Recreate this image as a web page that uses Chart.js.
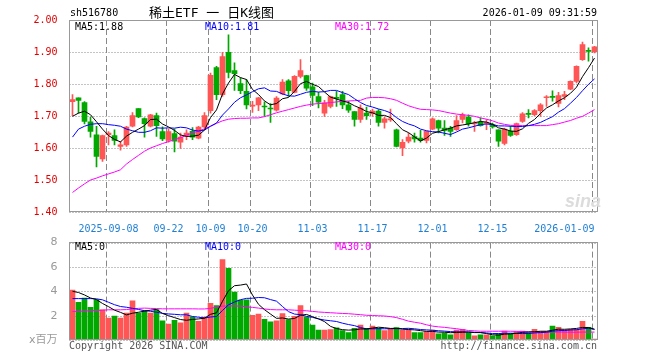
<!DOCTYPE html>
<html>
<head>
<meta charset="utf-8">
<script src="https://cdn.jsdelivr.net/npm/chart.js@4.4.1/dist/chart.umd.min.js"></script>
<style>
  body { margin: 0; background: #fff; }
  #wrap { position: relative; width: 660px; height: 360px; overflow: hidden;
          font-family: 'DejaVu Sans Mono', monospace; font-size: 10px; }
  canvas { position: absolute; left: 0; }
  .txt { position: absolute; white-space: nowrap; line-height: 12px; }
</style>
</head>
<body>
<div id="wrap">
  <canvas id="kline" width="660" height="235" style="top:0"></canvas>
  <canvas id="vol" width="660" height="128" style="top:232px"></canvas>

  <div class="txt" style="left:70px;top:7px">sh516780</div>
  <div class="txt" style="left:149px;top:5px;font:13px/16px 'DejaVu Sans Mono', 'Noto Sans CJK SC', monospace">稀土ETF 一 日K线图</div>
  <div class="txt" style="right:63px;top:7px">2026-01-09 09:31:59</div>

  <div class="txt" style="left:75px;top:21px;color:#000">MA5:1.88</div>
  <div class="txt" style="left:205px;top:21px;color:#0000ff">MA10:1.81</div>
  <div class="txt" style="left:335px;top:21px;color:#ff00ff">MA30:1.72</div>

  <div class="txt" style="left:565px;top:192px;font:italic bold 18px/18px 'Liberation Sans', sans-serif;color:#dcdcdc">sina</div>

  <div class="txt" style="left:75px;top:241px;color:#000">MA5:0</div>
  <div class="txt" style="left:205px;top:241px;color:#0000ff">MA10:0</div>
  <div class="txt" style="left:335px;top:241px;color:#ff00ff">MA30:0</div>

  <div class="txt" style="left:69px;top:340px;color:#555">Copyright 2026 SINA.COM</div>
  <div class="txt" style="right:63px;top:340px;color:#555">http://finance.sina.com.cn</div>
</div>

<script>
// trading days shown on the chart
const dates = [
  '2025-08-29',
  '2025-09-01','2025-09-02','2025-09-03','2025-09-04','2025-09-05','2025-09-08','2025-09-09','2025-09-10','2025-09-11','2025-09-12',
  '2025-09-15','2025-09-16','2025-09-17','2025-09-18','2025-09-19','2025-09-22','2025-09-23','2025-09-24','2025-09-25','2025-09-26',
  '2025-09-29','2025-09-30',
  '2025-10-09','2025-10-10','2025-10-13','2025-10-14','2025-10-15','2025-10-16','2025-10-17','2025-10-20','2025-10-21','2025-10-22',
  '2025-10-23','2025-10-24','2025-10-27','2025-10-28','2025-10-29','2025-10-30','2025-10-31',
  '2025-11-03','2025-11-04','2025-11-05','2025-11-06','2025-11-07','2025-11-10','2025-11-11','2025-11-12','2025-11-13','2025-11-14',
  '2025-11-17','2025-11-18','2025-11-19','2025-11-20','2025-11-21','2025-11-24','2025-11-25','2025-11-26','2025-11-27','2025-11-28',
  '2025-12-01','2025-12-02','2025-12-03','2025-12-04','2025-12-05','2025-12-08','2025-12-09','2025-12-10','2025-12-11','2025-12-12',
  '2025-12-15','2025-12-16','2025-12-17','2025-12-18','2025-12-19','2025-12-22','2025-12-23','2025-12-24','2025-12-25','2025-12-26',
  '2025-12-29','2025-12-30','2025-12-31',
  '2026-01-05','2026-01-06','2026-01-07','2026-01-08','2026-01-09'
];

const tickDates = ['2025-09-08','2025-09-22','2025-10-09','2025-10-20','2025-11-03','2025-11-17','2025-12-01','2025-12-15','2026-01-09'];
const tickText  = ['2025-09-08','09-22','10-09','10-20','11-03','11-17','12-01','12-15','2026-01-09'];

const open = [
  1.745,1.757,1.742,1.682,1.641,1.566,1.642,1.639,1.605,1.610,
  1.668,1.723,1.692,1.668,1.701,1.651,1.624,1.645,1.618,1.639,
  1.652,1.631,1.666,1.717,1.851,1.767,1.899,1.842,1.801,1.777,
  1.731,1.735,1.730,1.724,1.718,1.769,1.810,1.774,1.824,1.826,
  1.791,1.761,1.709,1.730,1.757,1.767,1.735,1.714,1.689,1.709,
  1.707,1.715,1.680,1.688,1.657,1.600,1.621,1.636,1.631,1.624,
  1.659,1.686,1.662,1.662,1.657,1.689,1.697,1.675,1.680,1.677,
  1.673,1.657,1.614,1.652,1.642,1.683,1.707,1.704,1.717,1.757,
  1.760,1.739,1.761,1.784,1.808,1.876,1.904,1.900
];
const high = [
  1.767,1.757,1.745,1.697,1.668,1.640,1.651,1.657,1.621,1.668,
  1.711,1.723,1.694,1.705,1.709,1.666,1.659,1.659,1.647,1.657,
  1.664,1.668,1.711,1.834,1.855,1.899,1.954,1.866,1.819,1.814,
  1.746,1.758,1.744,1.739,1.761,1.814,1.814,1.826,1.876,1.827,
  1.803,1.774,1.749,1.762,1.777,1.777,1.746,1.714,1.735,1.728,
  1.722,1.720,1.697,1.722,1.659,1.626,1.647,1.647,1.655,1.653,
  1.694,1.687,1.686,1.668,1.701,1.709,1.704,1.683,1.694,1.689,
  1.678,1.657,1.662,1.668,1.678,1.711,1.720,1.720,1.739,1.764,
  1.779,1.774,1.777,1.810,1.857,1.931,1.913,1.918
];
const low = [
  1.701,1.709,1.675,1.634,1.541,1.558,1.610,1.610,1.593,1.605,
  1.666,1.695,1.634,1.666,1.636,1.623,1.618,1.588,1.599,1.626,
  1.626,1.628,1.662,1.709,1.751,1.761,1.819,1.780,1.770,1.722,
  1.711,1.717,1.699,1.680,1.715,1.767,1.761,1.772,1.819,1.780,
  1.732,1.725,1.699,1.725,1.730,1.723,1.711,1.668,1.680,1.689,
  1.699,1.668,1.662,1.683,1.603,1.576,1.616,1.618,1.618,1.616,
  1.657,1.647,1.639,1.636,1.655,1.678,1.668,1.652,1.668,1.657,
  1.662,1.605,1.610,1.636,1.639,1.680,1.694,1.701,1.699,1.730,
  1.746,1.728,1.751,1.782,1.803,1.874,1.871,1.897
];
const close = [
  1.751,1.749,1.683,1.652,1.574,1.639,1.647,1.624,1.610,1.665,
  1.701,1.697,1.676,1.704,1.670,1.628,1.651,1.621,1.634,1.647,
  1.634,1.665,1.701,1.827,1.767,1.886,1.836,1.832,1.779,1.735,
  1.734,1.757,1.728,1.722,1.756,1.806,1.779,1.824,1.842,1.787,
  1.764,1.743,1.741,1.761,1.755,1.735,1.718,1.689,1.725,1.701,
  1.715,1.680,1.691,1.690,1.605,1.618,1.634,1.628,1.624,1.652,
  1.691,1.662,1.655,1.652,1.686,1.704,1.676,1.678,1.670,1.679,
  1.666,1.621,1.659,1.639,1.676,1.707,1.705,1.717,1.735,1.760,
  1.758,1.764,1.767,1.808,1.855,1.923,1.902,1.916
];

const ma5 = [
  1.699,1.709,1.715,1.704,1.682,1.659,1.639,1.627,1.619,1.637,
  1.649,1.659,1.670,1.689,1.690,1.675,1.666,1.655,1.641,1.636,
  1.637,1.640,1.656,1.695,1.719,1.769,1.803,1.830,1.820,1.814,
  1.783,1.767,1.747,1.735,1.739,1.754,1.758,1.777,1.801,1.808,
  1.799,1.792,1.775,1.759,1.753,1.747,1.742,1.732,1.724,1.714,
  1.710,1.702,1.702,1.695,1.676,1.657,1.648,1.635,1.622,1.631,
  1.646,1.651,1.657,1.662,1.669,1.672,1.675,1.679,1.683,1.681,
  1.674,1.663,1.659,1.653,1.652,1.660,1.677,1.689,1.708,1.725,
  1.735,1.747,1.757,1.771,1.790,1.823,1.851,1.881
];
const ma10 = [
  1.634,1.659,1.668,1.674,1.676,1.676,1.673,1.671,1.668,1.659,
  1.654,1.649,1.649,1.654,1.663,1.662,1.663,1.662,1.665,1.663,
  1.656,1.653,1.656,1.668,1.678,1.703,1.722,1.743,1.757,1.766,
  1.776,1.785,1.788,1.778,1.777,1.769,1.763,1.762,1.768,1.774,
  1.777,1.775,1.776,1.780,1.780,1.773,1.767,1.754,1.742,1.733,
  1.728,1.722,1.717,1.710,1.695,1.683,1.675,1.669,1.659,1.654,
  1.651,1.650,1.646,1.642,1.650,1.659,1.663,1.668,1.673,1.675,
  1.673,1.669,1.669,1.668,1.667,1.667,1.670,1.674,1.680,1.689,
  1.698,1.712,1.723,1.740,1.758,1.779,1.799,1.816
];
const ma30 = [
  1.461,1.475,1.488,1.500,1.506,1.513,1.519,1.525,1.532,1.550,
  1.564,1.577,1.590,1.600,1.607,1.614,1.620,1.626,1.632,1.640,
  1.647,1.653,1.660,1.668,1.677,1.685,1.690,1.692,1.693,1.693,
  1.694,1.694,1.698,1.704,1.710,1.715,1.720,1.725,1.730,1.734,
  1.737,1.739,1.740,1.742,1.744,1.746,1.747,1.748,1.749,1.756,
  1.758,1.758,1.757,1.754,1.749,1.740,1.732,1.726,1.721,1.720,
  1.719,1.717,1.713,1.709,1.706,1.704,1.702,1.699,1.694,1.690,
  1.685,1.678,1.674,1.671,1.670,1.670,1.670,1.670,1.670,1.670,
  1.673,1.676,1.681,1.686,1.693,1.699,1.709,1.720
];

// volume, millions of shares
const volume = [
  4.10,3.09,3.44,2.69,3.30,2.48,1.81,1.97,1.81,2.21,
  3.22,2.21,2.42,2.21,2.50,1.57,1.30,1.62,1.41,2.21,
  1.89,1.54,1.89,3.01,2.83,6.61,5.89,3.94,3.28,3.30,
  2.02,2.13,1.70,1.49,1.57,2.16,1.68,1.94,2.82,1.89,
  1.22,0.82,0.82,0.85,1.00,0.77,0.61,0.96,1.22,0.96,
  1.14,0.96,0.77,0.90,1.01,0.82,0.82,0.61,0.61,0.69,
  0.82,0.50,0.56,0.42,0.82,0.88,0.61,0.34,0.42,0.42,
  0.34,0.50,0.74,0.50,0.69,0.74,0.61,0.88,0.69,0.69,
  1.14,1.04,0.82,0.88,0.88,1.54,1.04,0.08
];
const vma5 = [
  4.00,3.90,3.70,3.45,3.32,3.00,2.74,2.45,2.27,2.06,
  2.20,2.28,2.37,2.45,2.51,2.18,2.00,1.84,1.68,1.62,
  1.69,1.73,1.79,2.11,2.23,3.18,4.05,4.46,4.51,4.60,
  3.69,2.93,2.49,2.13,1.78,1.81,1.72,1.77,2.03,2.10,
  1.91,1.74,1.51,1.12,0.94,0.85,0.81,0.84,0.91,0.90,
  0.98,1.05,1.01,0.95,0.96,0.89,0.86,0.83,0.77,0.71,
  0.71,0.65,0.64,0.60,0.62,0.64,0.66,0.61,0.61,0.53,
  0.43,0.40,0.48,0.50,0.55,0.63,0.66,0.68,0.72,0.72,
  0.80,0.89,0.88,0.91,0.95,1.03,1.03,0.88
];
const vma10 = [
  3.40,3.40,3.40,3.40,3.38,3.30,3.10,2.90,2.75,2.69,
  2.60,2.51,2.41,2.36,2.28,2.19,2.14,2.11,2.07,2.07,
  1.93,1.87,1.81,1.89,1.93,2.43,2.89,3.12,3.31,3.42,
  3.43,3.49,3.47,3.32,3.19,2.75,2.33,2.13,2.08,1.94,
  1.86,1.73,1.64,1.58,1.52,1.38,1.27,1.18,1.02,0.92,
  0.92,0.93,0.92,0.93,0.93,0.94,0.96,0.92,0.86,0.83,
  0.80,0.76,0.73,0.69,0.67,0.67,0.65,0.63,0.61,0.58,
  0.53,0.53,0.55,0.56,0.54,0.53,0.53,0.58,0.61,0.64,
  0.72,0.77,0.78,0.82,0.84,0.92,0.96,0.88
];
const vma30 = [
  2.34,2.36,2.38,2.40,2.42,2.45,2.48,2.48,2.48,2.50,
  2.55,2.60,2.62,2.60,2.58,2.56,2.56,2.56,2.56,2.56,
  2.56,2.55,2.55,2.60,2.70,2.78,2.80,2.80,2.78,2.72,
  2.68,2.62,2.55,2.50,2.48,2.48,2.48,2.45,2.42,2.40,
  2.35,2.30,2.27,2.24,2.21,2.18,2.16,2.12,2.08,2.03,
  2.01,1.99,1.97,1.92,1.84,1.70,1.55,1.46,1.38,1.25,
  1.14,1.08,1.04,0.98,0.93,0.85,0.78,0.75,0.72,0.72,
  0.72,0.72,0.72,0.72,0.71,0.69,0.67,0.66,0.65,0.65,
  0.65,0.65,0.65,0.64,0.64,0.65,0.65,0.65
];

const UP = '#ff5555';
const DOWN = '#00a800';
const candleColors = dates.map((d, i) => close[i] >= open[i] ? UP : DOWN);
const tickIdx = tickDates.map(d => dates.indexOf(d));

Chart.defaults.font.family = "'DejaVu Sans Mono', monospace";
Chart.defaults.font.size = 10;

// grid and box drawn through the chart's own scales:
// dashed line at each labelled date, dotted line at each value tick
const gridBox = {
  id: 'gridBox',
  beforeDatasetsDraw(chart) {
    const a = chart.chartArea;
    const c = chart.ctx;
    const xs = chart.scales.x;
    const ys = chart.scales.y;
    const step = xs.getPixelForValue(1) - xs.getPixelForValue(0);
    c.save();
    c.lineWidth = 1;
    c.strokeStyle = '#888';
    c.setLineDash([6, 3]);
    tickIdx.forEach(i => {
      const x = Math.round(xs.getPixelForValue(i) - step / 2) + 0.5;
      c.beginPath();
      c.moveTo(x, a.top);
      c.lineTo(x, a.bottom);
      c.stroke();
    });
    c.setLineDash([1, 2]);
    ys.ticks.forEach(t => {
      const y = Math.round(ys.getPixelForValue(t.value)) + 0.5;
      c.beginPath();
      c.moveTo(a.left, y);
      c.lineTo(a.right, y);
      c.stroke();
    });
    c.restore();
  },
  afterDatasetsDraw(chart) {
    const a = chart.chartArea;
    const c = chart.ctx;
    const left = Math.floor(a.left);
    const top = Math.floor(a.top);
    c.save();
    c.strokeStyle = '#999';
    c.lineWidth = 1;
    c.strokeRect(left + 0.5, top + 0.5, Math.floor(a.right) - left, Math.floor(a.bottom) - top - 1);
    c.restore();
  }
};

function maLine(data, color) {
  return { type: 'line', data: data, borderColor: color, borderWidth: 1,
    pointRadius: 0, tension: 0, fill: false, order: 0 };
}

function xScale(showLabels) {
  return {
    offset: true,
    grid: { display: false },
    border: { display: false },
    ticks: {
      display: showLabels,
      autoSkip: false,
      maxRotation: 0,
      align: 'inner',
      padding: 3,
      color: '#1f7fd4',
      callback: (v, i) => {
        const k = tickIdx.indexOf(i);
        return k >= 0 ? tickText[k] : '';
      }
    },
    afterFit: s => { s.height = showLabels ? 23 : 20; }
  };
}

const baseOptions = (top, yScale, showLabels) => ({
  responsive: false,
  animation: false,
  layout: { padding: { top: top, right: 62.5, left: 0, bottom: 0 } },
  plugins: { legend: { display: false }, tooltip: { enabled: false } },
  scales: { x: xScale(showLabels), y: yScale }
});

new Chart(document.getElementById('kline'), {
  type: 'bar',
  data: {
    labels: dates,
    datasets: [
      maLine(ma5, '#000000'),
      maLine(ma10, '#0000ff'),
      maLine(ma30, '#ff00ff'),
      {
        data: dates.map((d, i) => [open[i], close[i]]),
        backgroundColor: candleColors,
        barThickness: 5, minBarLength: 1, grouped: false, order: 1
      },
      {
        data: dates.map((d, i) => [low[i], high[i]]),
        backgroundColor: candleColors,
        barThickness: 1, grouped: false, order: 2
      }
    ]
  },
  options: baseOptions(20, {
    min: 1.4, max: 2.0,
    grid: { display: false },
    border: { display: false },
    ticks: { stepSize: 0.1, padding: 4, color: '#e00000', callback: v => v.toFixed(2) },
    afterFit: s => { s.width = 69.5; }
  }, true),
  plugins: [gridBox]
});

new Chart(document.getElementById('vol'), {
  type: 'bar',
  data: {
    labels: dates,
    datasets: [
      maLine(vma5, '#000000'),
      maLine(vma10, '#0000ff'),
      maLine(vma30, '#ff00ff'),
      {
        data: volume,
        backgroundColor: candleColors,
        barThickness: 5, grouped: false, order: 1
      }
    ]
  },
  options: baseOptions(8, {
    min: 0, max: 8,
    grid: { display: false },
    border: { display: false },
    ticks: {
      stepSize: 2, padding: 4, color: '#999',
      font: { family: "'DejaVu Sans', 'Noto Sans CJK SC', sans-serif", size: 11 },
      callback: v => v === 0 ? 'x百万' : String(v)
    },
    afterFit: s => { s.width = 69.5; }
  }, false),
  plugins: [gridBox]
});
</script>
</body>
</html>
